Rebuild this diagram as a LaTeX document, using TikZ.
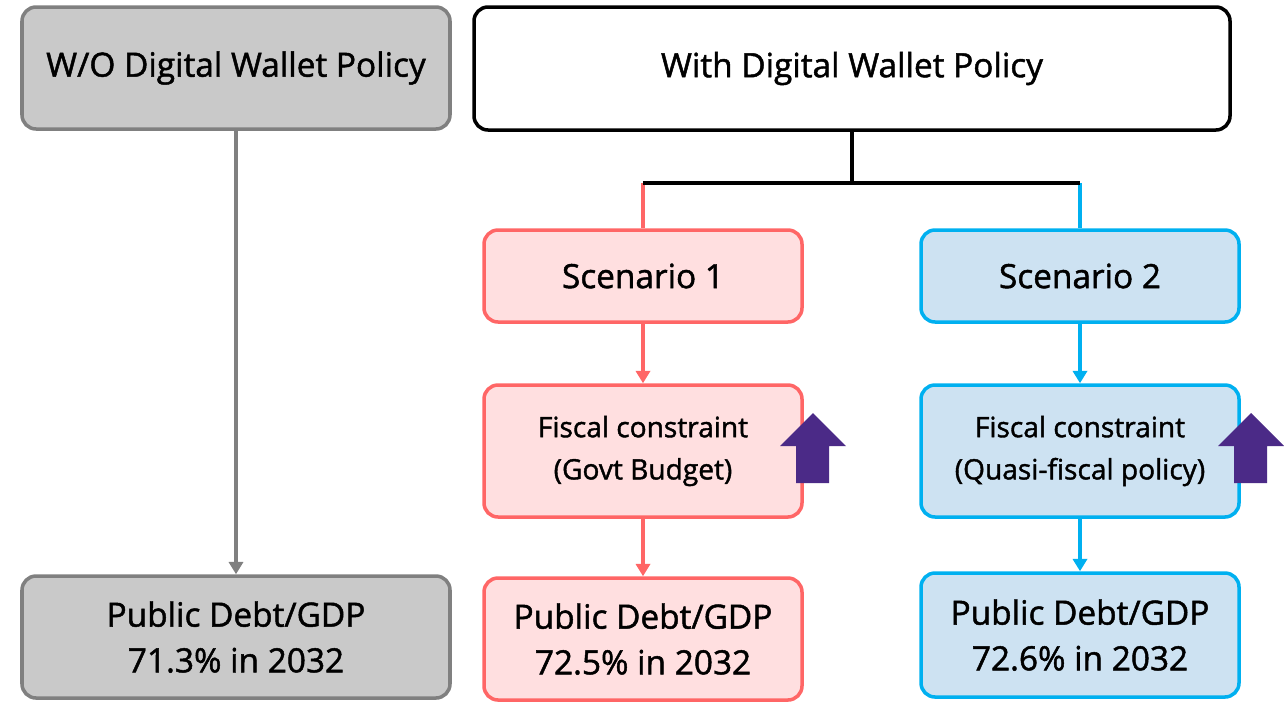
\documentclass[tikz,border=0pt]{standalone}
\usepackage{fontspec}
\setmainfont{Open Sans}[RawFeature={embolden=1.4}]
\usepackage{tikz}
\usetikzlibrary{arrows.meta,positioning}
\definecolor{wogray}{RGB}{201,201,201}
\definecolor{wograyDark}{RGB}{128,128,128}
\definecolor{scnRed}{RGB}{255,102,102}
\definecolor{scnRedFill}{RGB}{255,223,224}
\definecolor{scnBlue}{RGB}{0,176,240}
\definecolor{scnBlueFill}{RGB}{205,226,242}
\definecolor{upPurple}{RGB}{75,42,135}

\begin{document}
\begin{tikzpicture}[x=0.02cm,y=-0.02cm,
  box/.style={draw, line width=2pt, rounded corners=8pt, align=center, font=\fontsize{19}{26}\selectfont},
  smallbox/.style={box, font=\fontsize{16}{24}\selectfont},
  link/.style={line width=1.8pt, -{Triangle[length=7pt,width=8pt]}}]
\useasboundingbox (0,0) rectangle (1284,701);
% top row
\node[box, fill=wogray, draw=wograyDark, minimum width=428*0.02cm, minimum height=122*0.02cm] (wo) at (236,68) {W/O Digital Wallet Policy};
\node[box, fill=white, draw=black, minimum width=756*0.02cm, minimum height=123*0.02cm] (with) at (852,68.5) {With Digital Wallet Policy};
% scenarios
\node[box, fill=scnRedFill, draw=scnRed, minimum width=318*0.02cm, minimum height=92*0.02cm] (scn1) at (643,276) {Scenario 1};
\node[box, fill=scnBlueFill, draw=scnBlue, minimum width=318*0.02cm, minimum height=92*0.02cm] (scn2) at (1080,276) {Scenario 2};
\node[smallbox, fill=scnRedFill, draw=scnRed, minimum width=318*0.02cm, minimum height=132*0.02cm] (fis1) at (643,451) {Fiscal constraint\\(Govt Budget)};
\node[smallbox, fill=scnBlueFill, draw=scnBlue, minimum width=318*0.02cm, minimum height=132*0.02cm] (fis2) at (1080,451) {Fiscal constraint\\(Quasi-fiscal policy)};
% debt outcomes
\node[box, fill=wogray, draw=wograyDark, minimum width=428*0.02cm, minimum height=122*0.02cm] (debt0) at (236,637) {Public Debt/GDP\\71.3\% in 2032};
\node[box, fill=scnRedFill, draw=scnRed, minimum width=318*0.02cm, minimum height=122*0.02cm] (debt1) at (643,639) {Public Debt/GDP\\72.5\% in 2032};
\node[box, fill=scnBlueFill, draw=scnBlue, minimum width=318*0.02cm, minimum height=124*0.02cm] (debt2) at (1080,635) {Public Debt/GDP\\72.6\% in 2032};
% tree
\draw[line width=2pt] (with.south) -- ++(0,51) coordinate (split);
\draw[scnRed, line width=1.8pt] (scn1.north |- split) -- (scn1.north);
\draw[scnBlue, line width=1.8pt] (scn2.north |- split) -- (scn2.north);
\draw[line width=2pt] (scn1.north |- split) -- (scn2.north |- split);
% arrows
\draw[link, wograyDark] (wo) -- (debt0);
\draw[link, scnRed] (scn1) -- (fis1);
\draw[link, scnRed] (fis1) -- (debt1);
\draw[link, scnBlue] (scn2) -- (fis2);
\draw[link, scnBlue] (fis2) -- (debt2);
% up arrows
\fill[upPurple] (813,413) -- (846,446) -- (829,446) -- (829,483) -- (796,483) -- (796,446) -- (780,446) -- cycle;
\fill[upPurple] (1251,413) -- (1284,446) -- (1267,446) -- (1267,483) -- (1234,483) -- (1234,446) -- (1218,446) -- cycle;
\end{tikzpicture}
\end{document}
